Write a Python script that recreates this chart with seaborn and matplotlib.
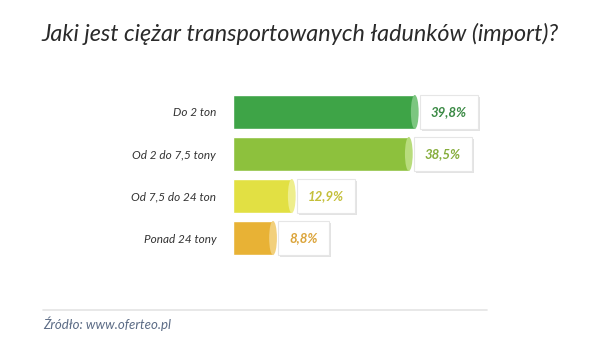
import numpy as np
import pandas as pd
import matplotlib
matplotlib.use("Agg")
import matplotlib.pyplot as plt
import matplotlib.patheffects as pe
from matplotlib.patches import Ellipse
import seaborn as sns

# ---- data ----
categories = ["Do 2 ton", "Od 2 do 7,5 tony", "Od 7,5 do 24 ton", "Ponad 24 tony"]
values = [39.8, 38.5, 12.9, 8.8]
value_labels = ["39,8%", "38,5%", "12,9%", "8,8%"]

bar_colors = ["#3ea447", "#8dc13d", "#e2e043", "#e8b235"]
cap_colors = ["#7cc680", "#b8dc7c", "#eeee8c", "#f2d07c"]
text_colors = ["#3b8a45", "#86ad3c", "#c4bf3a", "#dba43a"]

df = pd.DataFrame({"kategoria": categories, "procent": values})

sns.set_theme(style="white")
plt.rcParams["font.family"] = ["Lato", "DejaVu Sans"]

fig = plt.figure(figsize=(6, 3.57), dpi=100)
ax = fig.add_axes([0.388, 0.2745, 0.381, 0.4706])

sns.barplot(data=df, x="procent", y="kategoria", hue="kategoria",
            palette=bar_colors, order=categories, width=0.81,
            legend=False, ax=ax, saturation=1)

ax.set_xlim(0, 50)
ax.set_ylim(3.5, -0.5)

# cylinder end caps and value boxes
for i, v in enumerate(values):
    ax.add_patch(Ellipse((v, i), width=1.7, height=0.81,
                         facecolor=cap_colors[i], edgecolor="none", zorder=3))
    ann = ax.annotate(value_labels[i], xy=(v, i), xytext=(16, 0),
                      textcoords="offset pixels", ha="left", va="center",
                      fontsize=9.5, fontstyle="italic", fontweight="bold",
                      color=text_colors[i],
                      bbox=dict(boxstyle="square,pad=0.85", fc="white",
                                ec="#e6e6e6", lw=0.8))
    ann.get_bbox_patch().set_path_effects([
        pe.SimplePatchShadow(offset=(1.5, -1.5), shadow_rgbFace="#dcdcdc",
                             alpha=0.8),
        pe.Normal()])

ax.set_xlabel("")
ax.set_ylabel("")
ax.set_xticks([])
ax.tick_params(axis="y", length=0, pad=12)
for lab in ax.get_yticklabels():
    lab.set_fontstyle("italic")
    lab.set_fontsize(8.5)
    lab.set_color("#333333")
sns.despine(ax=ax, left=True, bottom=True)

fig.text(0.5, 0.905, "Jaki jest ciężar transportowanych ładunków (import)?",
         ha="center", va="center", fontsize=16.8, fontstyle="italic",
         color="#2a2a2a")

fig.add_artist(plt.Line2D([0.072, 0.812], [0.132, 0.132],
                          color="#e4e4e4", lw=1.2))
fig.text(0.072, 0.092, "Źródło: www.oferteo.pl", ha="left", va="center",
         fontsize=9.5, fontstyle="italic", color="#5b6b85")

fig.savefig("out.png", dpi=100)
